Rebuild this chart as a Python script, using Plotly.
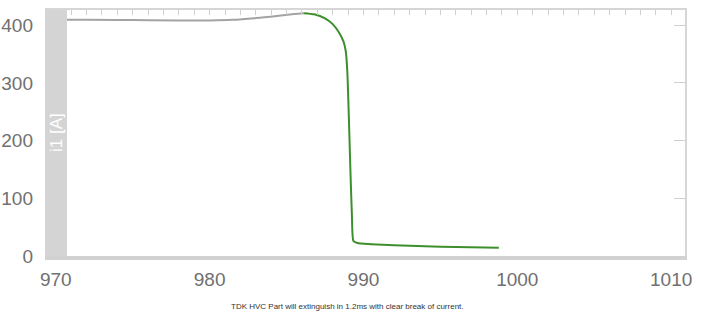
import plotly.graph_objects as go

# Data
gray_t = [970.0, 972.0, 975.0, 978.0, 980.0, 981.5, 983.0, 984.5, 985.5, 986.1]
gray_i = [409.5, 409.5, 409.0, 408.5, 408.5, 409.5, 412.5, 416.5, 419.5, 421.0]

green_t = [986.1, 986.8, 987.5, 988.0, 988.4, 988.7, 988.85, 988.95, 989.05,
           989.15, 989.25, 989.35, 989.6, 990.5, 992.0, 994.0, 996.0, 998.8]
green_i = [421.0, 419.0, 412.0, 402.0, 388.0, 372.0, 355.0, 320.0, 240.0,
           150.0, 70.0, 26.0, 22.5, 20.5, 18.5, 16.8, 15.6, 14.5]

x_ticks = [970, 980, 990, 1000, 1010]
y_ticks = [0, 100, 200, 300, 400]
x_range = [969.3, 1010.9]
y_range = [0, 426.5]

caption = "TDK HVC Part will extinguish in 1.2ms with clear break of current."
y_title = "i1 [A]"

label_font = dict(family="Liberation Sans, Arial, sans-serif", size=19, color="#707070")

fig = go.Figure()
fig.add_trace(go.Scatter(x=gray_t, y=gray_i, mode="lines",
                         line=dict(color="#a3a3a3", width=2, shape="spline"),
                         hoverinfo="skip", showlegend=False))
fig.add_trace(go.Scatter(x=green_t, y=green_i, mode="lines",
                         line=dict(color="#3d8f2c", width=2, shape="spline", smoothing=0.6),
                         hoverinfo="skip", showlegend=False))

fig.update_layout(
    width=701, height=313,
    margin=dict(l=45, r=16, t=10, b=57),
    paper_bgcolor="white", plot_bgcolor="white",
    showlegend=False,
    xaxis=dict(range=x_range, tickvals=x_ticks, ticktext=[str(v) for v in x_ticks],
               showgrid=False, zeroline=False, showline=True, linecolor="#d2d2d2",
               linewidth=4, ticks="", tickfont=label_font, ticklabelstandoff=3,
               fixedrange=True, automargin=False),
    yaxis=dict(range=y_range, tickvals=y_ticks, ticktext=[str(v) for v in y_ticks],
               showgrid=False, zeroline=False, showline=False, ticks="",
               tickfont=label_font, ticklabelstandoff=11, fixedrange=True,
               automargin=False),
    xaxis2=dict(range=x_range, overlaying="x", side="top", anchor="y", dtick=1, tick0=970,
                ticks="inside", ticklen=5, tickcolor="#d0d0d0", tickwidth=1,
                showticklabels=False, showgrid=False, zeroline=False,
                showline=True, linecolor="#d6d6d6", linewidth=2, fixedrange=True,
                automargin=False),
    yaxis2=dict(range=y_range, overlaying="y", side="right", anchor="x",
                tickvals=[100, 200, 300, 400],
                ticks="inside", ticklen=11, tickcolor="#d0d0d0", tickwidth=1,
                showticklabels=False, showgrid=False, zeroline=False,
                showline=True, linecolor="#d6d6d6", linewidth=2, fixedrange=True,
                automargin=False),
    shapes=[dict(type="rect", xref="paper", yref="paper", x0=0, x1=22/640, y0=0, y1=1,
                 fillcolor="#d4d4d4", line=dict(width=0), layer="above")],
    annotations=[
        dict(text=y_title, xref="paper", yref="paper", x=11/640, y=0.5,
             textangle=-90, showarrow=False, xanchor="center", yanchor="middle",
             font=dict(family="Liberation Sans, Arial, sans-serif", size=17, color="white")),
        dict(text=caption, xref="paper", yref="paper", x=0.473, y=-50/246,
             showarrow=False, xanchor="center", yanchor="middle",
             font=dict(family="Liberation Sans, Arial, sans-serif", size=8, color="#333333")),
    ],
)
fig.add_trace(go.Scatter(x=[], y=[], xaxis="x2", yaxis="y2", showlegend=False))

fig.write_html("out.html")
